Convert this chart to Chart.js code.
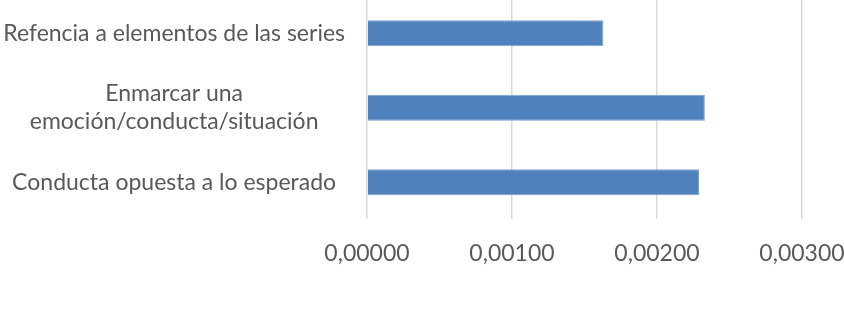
<!DOCTYPE html>
<html>
<head>
<meta charset="utf-8">
<script src="https://cdn.jsdelivr.net/npm/chart.js@4"></script>
<style>
  html, body { margin: 0; padding: 0; background: #fff; overflow: hidden; }
  #wrap { position: relative; width: 844px; height: 309px; overflow: hidden; }
  #chart { position: absolute; left: 0; top: -4px; }
</style>
</head>
<body>
<div id="wrap"><canvas id="chart" width="844" height="313"></canvas></div>
<script>
// categories and values
const categories = [
    'Refencia a elementos de las series',
    ['Enmarcar una', 'emoción/conducta/situación'],
    'Conducta opuesta a lo esperado'
];
const values = [0.00163, 0.00233, 0.00229];
const xTicks = [0, 0.001, 0.002, 0.003];

const textColor = '#595959';
const gridColor = '#d9d9d9';

new Chart(document.getElementById('chart'), {
    type: 'bar',
    data: {
        labels: categories,
        datasets: [{
            data: values,
            backgroundColor: '#4f81bd',
            borderColor: '#7da2cf',
            borderWidth: 1,
            categoryPercentage: 0.5,
            barPercentage: 0.7
        }]
    },
    options: {
        indexAxis: 'y',
        responsive: false,
        animation: false,
        layout: { padding: { top: 0, right: 42, bottom: 22, left: 0 } },
        plugins: { legend: { display: false }, tooltip: { enabled: false } },
        scales: {
            x: {
                min: xTicks[0],
                max: xTicks[xTicks.length - 1],
                afterBuildTicks: s => { s.ticks = xTicks.map(v => ({ value: v })); },
                afterFit: s => { s.paddingLeft = 0; s.paddingRight = 0; },
                grid: { color: gridColor, lineWidth: 1.5, drawTicks: false },
                border: { display: false },
                ticks: {
                    color: textColor,
                    font: { family: 'Lato', size: 23 },
                    padding: 20,
                    callback: v => Number(v).toFixed(5).replace('.', ',')
                }
            },
            y: {
                afterFit: s => { s.width = 367; s.paddingTop = 0; s.paddingBottom = 0; },
                grid: { display: false, drawTicks: false },
                border: { display: false },
                ticks: {
                    color: textColor,
                    font: { family: 'Lato', size: 23 },
                    padding: 22,
                    crossAlign: 'center'
                }
            }
        }
    }
});
</script>
</body>
</html>
